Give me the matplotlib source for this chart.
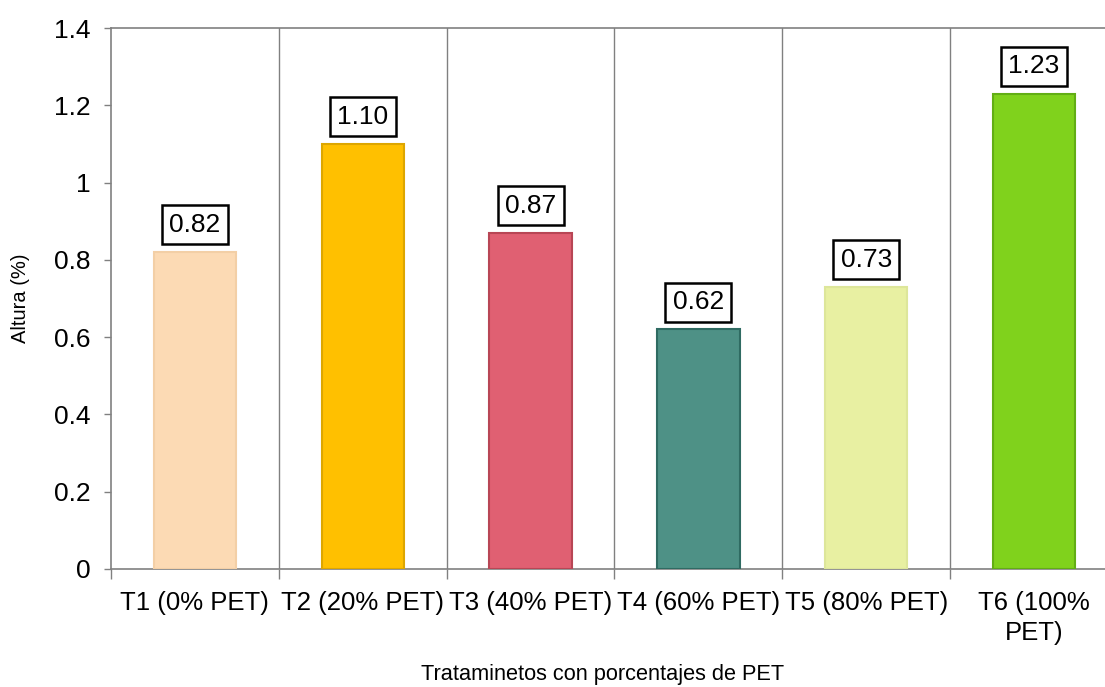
import matplotlib
matplotlib.use("Agg")
import matplotlib.pyplot as plt
import numpy as np

categories = ["T1 (0% PET)", "T2 (20% PET)", "T3 (40% PET)", "T4 (60% PET)", "T5 (80% PET)", "T6 (100%\nPET)"]
values = [0.82, 1.10, 0.87, 0.62, 0.73, 1.23]
labels = ["0.82", "1.10", "0.87", "0.62", "0.73", "1.23"]
yticks = [0, 0.2, 0.4, 0.6, 0.8, 1, 1.2, 1.4]
ytick_labels = ["0", "0.2", "0.4", "0.6", "0.8", "1", "1.2", "1.4"]
colors = ["#FCDAB4", "#FFC000", "#E06072", "#4E9186", "#E8F0A2", "#80D21C"]
edges = ["#F3CFA6", "#DDA600", "#B84655", "#2F6B62", "#DDE69A", "#62AE14"]

plt.rcParams['font.family'] = ['Liberation Sans', 'DejaVu Sans']

fig = plt.figure(figsize=(11.05, 6.87), dpi=100)
W, H = 1105, 687
left, right, top, bottom = 111, 1118, 28, 569
ax = fig.add_axes([left / W, 1 - bottom / H, (right - left) / W, (bottom - top) / H])

x = np.arange(len(categories))
ax.bar(x, values, width=0.49, color=colors, edgecolor=edges, linewidth=1.5, zorder=3)

ax.set_xlim(-0.5, len(categories) - 0.5)
ax.set_ylim(0, 1.4)
ax.set_yticks(yticks)
ax.set_yticklabels(ytick_labels, fontsize=19)

# category labels at centres, ticks at boundaries
ax.set_xticks(x)
ax.set_xticklabels(categories, fontsize=18.5, linespacing=1.3)
ax.tick_params(axis='x', which='major', length=0, pad=16)
bounds = np.arange(-0.5, len(categories), 1.0)
ax.set_xticks(bounds, minor=True)
ax.tick_params(axis='x', which='minor', length=7, width=1, color='#808080')
ax.tick_params(axis='y', length=5, width=1, color='#808080', pad=10)

for b in bounds[1:]:
    ax.axvline(b, color='#808080', lw=1, zorder=1)

for s in ['left', 'bottom', 'top']:
    ax.spines[s].set_color('#808080')
    ax.spines[s].set_linewidth(1.2)
ax.spines['right'].set_visible(False)

for xi, v, lab in zip(x, values, labels):
    ax.annotate(lab, (xi, v), xytext=(0, 11), textcoords='offset points',
                ha='center', va='bottom', fontsize=19, zorder=5,
                bbox=dict(boxstyle='square,pad=0.28', fc='white', ec='black', lw=1.8))

ax.set_ylabel("Altura (%)", fontsize=14.5, labelpad=17)
ax.set_xlabel("Trataminetos con porcentajes de PET", fontsize=15.7)
ax.xaxis.set_label_coords((603 - left) / (right - left), -(664 - bottom) / (bottom - top))

fig.savefig("out.png", dpi=100)
